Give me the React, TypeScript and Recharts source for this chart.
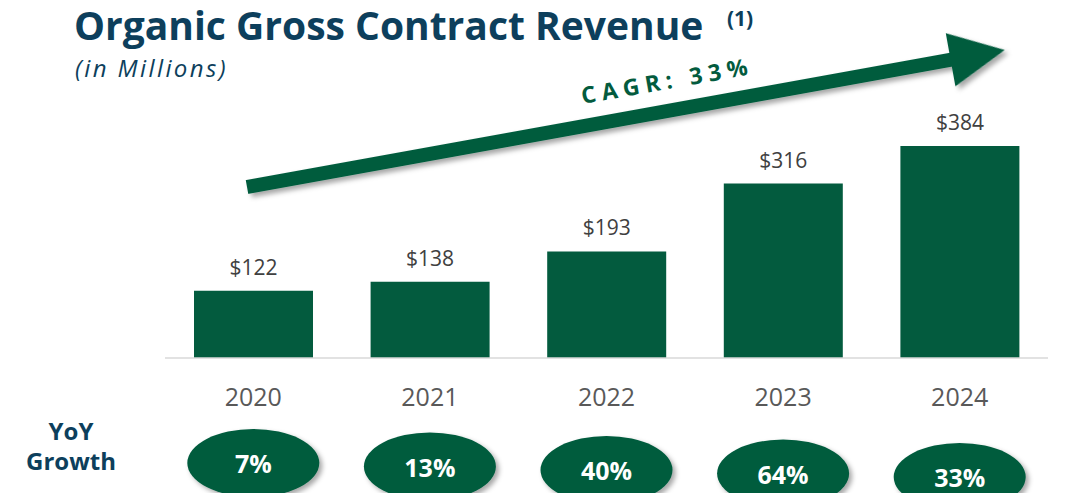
import React from 'react';
import { BarChart, Bar, XAxis, YAxis, LabelList } from 'recharts';

const years = ['2020', '2021', '2022', '2023', '2024'];
const revenue = [122, 138, 193, 316, 384];
const yoyGrowth = ['7%', '13%', '40%', '64%', '33%'];
const cagrLabel = 'CAGR: 33%';

const data = years.map((y, i) => ({ year: y, revenue: revenue[i], yoy: yoyGrowth[i] }));

const GREEN = '#035b3e';
const BLUE = '#0d3f5c';
const FONT = '"Open Sans", "Noto Sans", sans-serif';

const YearTick = (props: any) => {
  const { x, y, payload, index } = props;
  const ey = y + 105 + index * 3.5;
  return (
    <g>
      <text x={x} y={y + 38} textAnchor="middle" dominantBaseline="central" fill="#595959" fontSize={25} fontFamily={FONT}>
        {payload.value}
      </text>
      <ellipse cx={x} cy={ey} rx={66} ry={34} fill={GREEN} filter="url(#shadow)" />
      <text x={x} y={ey} textAnchor="middle" dominantBaseline="central" fill="#ffffff" fontSize={25} fontWeight={700} fontFamily={FONT}>
        {yoyGrowth[index]}
      </text>
    </g>
  );
};

export default function App() {
  return (
    <div style={{ position: 'absolute', left: 0, top: 0, width: 1069, height: 493, overflow: 'hidden', background: '#fff', fontFamily: FONT }}>
      <div style={{ position: 'absolute', left: 0, top: 0 }}>
        <BarChart width={1069} height={493} data={data} margin={{ top: 146, right: 21, bottom: 0, left: 165 }}>
          <defs>
            <filter id="shadow" x="-20%" y="-30%" width="150%" height="180%">
              <feDropShadow dx="3" dy="3" stdDeviation="2.5" floodColor="#000" floodOpacity="0.35" />
            </filter>
          </defs>
          <YAxis hide domain={[0, 384]} />
          <XAxis
            dataKey="year"
            height={135}
            tickLine={false}
            tickSize={0}
            tickMargin={0}
            axisLine={{ stroke: '#d9d9d9', strokeWidth: 1.5 }}
            tick={<YearTick />}
            interval={0}
          />
          <Bar dataKey="revenue" fill={GREEN} barSize={119} isAnimationActive={false}>
            <LabelList dataKey="revenue" position="top" offset={16} formatter={(v: any) => `$${v}`} fill="#404040" fontSize={21} fontFamily={FONT} />
          </Bar>
        </BarChart>
      </div>
      <svg width={1069} height={493} style={{ position: 'absolute', left: 0, top: 0, pointerEvents: 'none' }}>
        <defs>
          <filter id="shadow2" x="-10%" y="-50%" width="130%" height="250%">
            <feDropShadow dx="3" dy="4" stdDeviation="2.5" floodColor="#000" floodOpacity="0.35" />
          </filter>
        </defs>
        <text x={74} y={40} fill={BLUE} fontSize={39} fontWeight={700} fontFamily={FONT}>
          Organic Gross Contract Revenue
        </text>
        <text x={727} y={26} fill={BLUE} fontSize={21} fontWeight={700} fontFamily={FONT}>(1)</text>
        <text x={75} y={77} fill={BLUE} fontSize={24} fontStyle="italic" fontFamily={FONT} letterSpacing={2.4}>(in Millions)</text>
        <g transform="translate(247,187) rotate(-10.25)" filter="url(#shadow2)">
          <polygon points="0,-7 715,-7 715,-27 770,0 715,27 715,7 0,7" fill={GREEN} />
        </g>
        <text x={667} y={80} transform="rotate(-10 667 80)" textAnchor="middle" dominantBaseline="central" fill={GREEN} fontSize={23} fontWeight={700} letterSpacing={5.8} fontFamily={FONT}>
          {cagrLabel}
        </text>
        <text x={71} y={430} textAnchor="middle" dominantBaseline="central" fill={BLUE} fontSize={24} fontWeight={700} fontFamily={FONT}>YoY</text>
        <text x={71} y={460} textAnchor="middle" dominantBaseline="central" fill={BLUE} fontSize={24} fontWeight={700} fontFamily={FONT}>Growth</text>
      </svg>
    </div>
  );
}
